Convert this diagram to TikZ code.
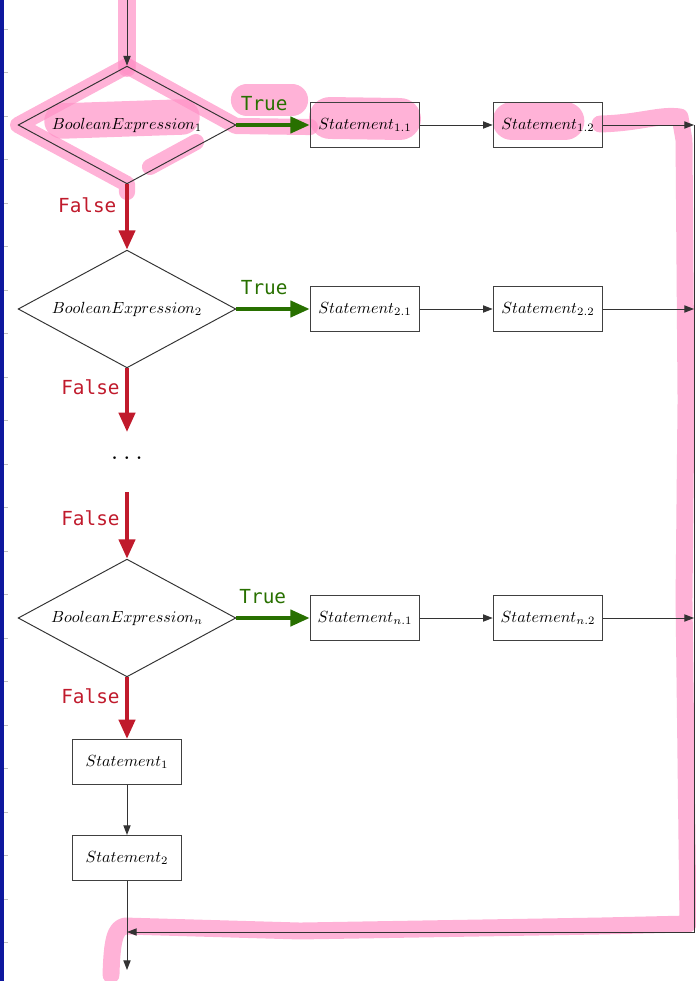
\documentclass[tikz,border=0pt]{standalone}
\usepackage{amsmath}
\usepackage{fontspec}
\newfontfamily\labelfont{DejaVu Sans Mono}
\usepackage{tikz}
\usetikzlibrary{shapes.geometric,arrows.meta}

\definecolor{truegreen}{RGB}{40,112,0}
\definecolor{falsered}{RGB}{192,26,44}
\definecolor{marker}{RGB}{255,145,198}
\definecolor{framebar}{RGB}{14,24,158}

\tikzset{
  decision/.style={diamond, aspect=1.85, draw=black!80, line width=0.6pt,
    minimum width=135pt, minimum height=73pt, inner sep=0pt},
  stmt/.style={rectangle, draw=black!75, line width=0.6pt,
    minimum width=68pt, minimum height=28pt, inner sep=2pt},
  flow/.style={draw=black!80, line width=0.6pt, -{Triangle[length=6pt,width=4.5pt]}},
  truearrow/.style={draw=truegreen, line width=2.5pt, -{Triangle[length=12pt,width=10pt]}},
  falsearrow/.style={draw=falsered, line width=2.5pt, -{Triangle[length=12pt,width=10pt]}},
  truelabel/.style={text=truegreen, font=\labelfont\fontsize{12}{14}\selectfont},
  falselabel/.style={text=falsered, font=\labelfont\fontsize{12}{14}\selectfont},
  highlight/.style={draw=marker, opacity=0.7, line width=10pt, line cap=round, line join=round},
}

\begin{document}
\begin{tikzpicture}[x=0.62pt, y=-0.62pt]
\useasboundingbox (0,0) rectangle (696,981);

\fill[framebar] (0,0) rectangle (4,981);
\foreach \k in {0,...,21}
  \draw[black!25, line width=0.5pt] (4,{29+43.5*\k}) -- (8,{29+43.5*\k});

% marker strokes
\draw[highlight, line width=11pt] (127,0) -- (127,68);
\draw[highlight] (127,66) -- (18,125) -- (127,184) -- (127,192);
\draw[highlight] (127,66) -- (236,126) -- (310,127);
\draw[highlight] (150,167) -- (196,142);
\draw[highlight, line width=22pt] (62,121) -- (182,117);
\draw[highlight, line width=20pt] (247,100) -- (292,100);
\draw[highlight, line width=26pt] (330,118) -- (400,119);
\draw[highlight, line width=24pt] (512,121) -- (565,121);
\draw[highlight, line width=10.5pt] (600,124) .. controls (640,123) and (660,114) .. (680,117)
  -- (684,140) -- (686,400) -- (684,600) -- (688,924) -- (600,926) -- (300,931) -- (125,926)
  .. controls (115,928) and (112,940) .. (111,975);

\node[decision] (b1) at (127,125) {$BooleanExpression_1$};
\node[decision] (b2) at (127,309) {$BooleanExpression_2$};
\node[decision] (bn) at (127,618) {$BooleanExpression_n$};
\node[stmt] (s11) at (365,125) {$Statement_{1.1}$};
\node[stmt] (s12) at (548,125) {$Statement_{1.2}$};
\node[stmt] (s21) at (365,309) {$Statement_{2.1}$};
\node[stmt] (s22) at (548,309) {$Statement_{2.2}$};
\node[stmt] (sn1) at (365,618) {$Statement_{n.1}$};
\node[stmt] (sn2) at (548,618) {$Statement_{n.2}$};
\node[stmt] (s1) at (127,762) {$Statement_1$};
\node[stmt] (s2) at (127,858) {$Statement_2$};
\node (gap) at (127,458) {\LARGE$\ldots$};

\coordinate (entry) at (127,0);
\coordinate (exit) at (127,970);
\coordinate (gapin) at (127,432);
\coordinate (gapout) at (127,492);
\coordinate (r1) at (694,125);
\coordinate (r2) at (694,309);
\coordinate (rn) at (694,618);
\coordinate (rb) at (694,932);
\coordinate (join) at (127,932);

\draw[flow] (entry) -- (b1);
\draw[truearrow] (b1) -- node[pos=0.38, above=4pt, truelabel]{True} (s11);
\draw[truearrow] (b2) -- node[pos=0.38, above=4pt, truelabel]{True} (s21);
\draw[truearrow] (bn) -- node[pos=0.36, above=4pt, truelabel]{True} (sn1);
\draw[flow] (s11) -- (s12);
\draw[flow] (s21) -- (s22);
\draw[flow] (sn1) -- (sn2);
\draw[flow] (s12) -- (r1);
\draw[flow] (s22) -- (r2);
\draw[flow] (sn2) -- (rn);
\draw[falsearrow] (b1) -- node[pos=0.32, left=2pt, falselabel]{False} (b2);
\draw[falsearrow] (b2) -- node[pos=0.3, left, falselabel]{False} (gapin);
\draw[falsearrow] (gapout) -- node[pos=0.4, left, falselabel]{False} (bn);
\draw[falsearrow] (bn) -- node[pos=0.3, left, falselabel]{False} (s1);
\draw[flow] (s1) -- (s2);
\draw[flow] (s2) -- (exit);
\draw[flow] (r1) -- (rb) -- (join);
\end{tikzpicture}
\end{document}
